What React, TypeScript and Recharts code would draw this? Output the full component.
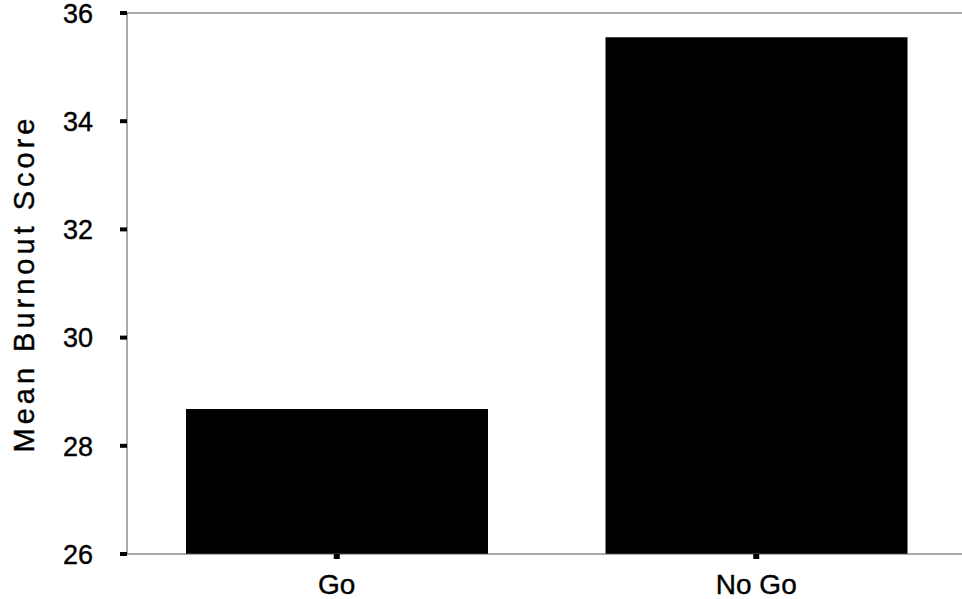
import React from "react";
import {
  BarChart,
  Bar,
  XAxis,
  YAxis,
  ReferenceLine,
} from "recharts";

const categories = ["Go", "No Go"];
const burnoutScores = [28.68, 35.55];
const yTicks = [26, 28, 30, 32, 34, 36];
const dividerDomain = [0, 2];
const dividerAt = 1;

const data = categories.map((group, i) => ({ group, score: burnoutScores[i] }));

const FONT = "'Liberation Sans', Arial, Helvetica, sans-serif";

// tick labels sit well away from the short heavy tick marks
const YTick = (props: any) => {
  const { x, y, payload } = props;
  return (
    <text
      x={x - 25}
      y={y}
      dy="0.36em"
      textAnchor="end"
      fontSize={27}
      fontFamily={FONT}
      fill="#000"
      stroke="#000"
      strokeWidth={0.4}
    >
      {payload.value}
    </text>
  );
};

const XTick = (props: any) => {
  const { x, y, payload } = props;
  return (
    <text
      x={x}
      y={y}
      dy="0.71em"
      textAnchor="middle"
      fontSize={28}
      fontFamily={FONT}
      fill="#000"
      stroke="#000"
      strokeWidth={0.4}
    >
      {payload.value}
    </text>
  );
};

const App: React.FC = () => {
  return (
    <div style={{ width: 966, height: 599 }}>
      <style>{`body{margin:0;overflow:hidden;background:#fff}`}</style>
      <BarChart
        width={966}
        height={599}
        data={data}
        margin={{ top: 13, right: 0, bottom: 0, left: 0 }}
        barSize={302}
      >
        <XAxis
          dataKey="group"
          height={45}
          axisLine={{ stroke: "#555", strokeWidth: 1 }}
          tickLine={{ stroke: "#000", strokeWidth: 6 }}
          tickSize={5}
          tickMargin={15}
          tick={<XTick />}
        />
        <XAxis
          xAxisId="divider"
          type="number"
          domain={dividerDomain}
          hide
        />
        <YAxis
          width={127}
          domain={[yTicks[0], yTicks[yTicks.length - 1]]}
          ticks={yTicks}
          allowDataOverflow
          axisLine={{ stroke: "#555", strokeWidth: 1 }}
          tickLine={{ stroke: "#000", strokeWidth: 4 }}
          tickSize={7}
          tickMargin={2}
          tick={<YTick />}
          label={{
            value: "Mean Burnout Score",
            angle: -90,
            position: "center",
            dx: -40,
            style: {
              textAnchor: "middle",
              fontSize: 29,
              fontFamily: FONT,
              fill: "#000",
              stroke: "#000",
              strokeWidth: 0.4,
              letterSpacing: 4,
            },
          }}
        />
        <ReferenceLine y={yTicks[yTicks.length - 1]} stroke="#555" strokeWidth={1} />
        <ReferenceLine x={dividerAt} xAxisId="divider" stroke="#555" strokeWidth={1} />
        <Bar dataKey="score" fill="#000" isAnimationActive={false} />
      </BarChart>
    </div>
  );
};

export default App;
